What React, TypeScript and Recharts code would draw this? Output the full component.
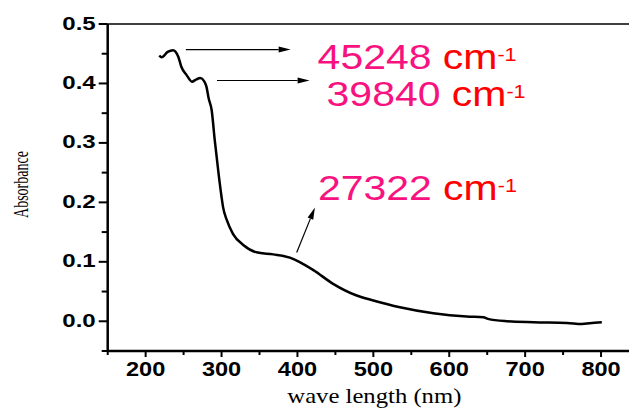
import React from "react";
import {
  LineChart,
  Line,
  XAxis,
  YAxis,
  ReferenceLine,
} from "recharts";

// absorbance spectrum
const wavelength = [
  218, 221, 229, 236, 243, 247, 254, 261, 267, 272, 277, 280, 283, 287, 291,
  296, 300, 302, 307, 315, 329, 346, 368, 390, 403, 421, 447, 478, 500, 535,
  579, 623, 645, 651, 676, 711, 755, 775, 785, 801,
];
const absorbance = [
  0.447, 0.444, 0.453, 0.456, 0.445, 0.428, 0.414, 0.403, 0.407, 0.409, 0.404,
  0.395, 0.375, 0.355, 0.305, 0.249, 0.209, 0.192, 0.17, 0.147, 0.128, 0.116,
  0.1125, 0.107, 0.0995, 0.086, 0.063, 0.0433, 0.035, 0.0236, 0.0135, 0.0079,
  0.0067, 0.004, 0.0, -0.0017, -0.0028, -0.0045, -0.0033, -0.0017,
];

const xTicks = [150, 200, 250, 300, 350, 400, 450, 500, 550, 600, 650, 700, 750, 800, 850];
const yTicks = [-0.05, 0, 0.05, 0.1, 0.15, 0.2, 0.25, 0.3, 0.35, 0.4, 0.45, 0.5];

// peak annotations: arrow from (x1,y1) to (x2,y2), then the wavenumber
const peakLabels = ["45248", "39840", "27322"];
const arrowFrom = [
  { x: 253, y: 0.457 },
  { x: 294, y: 0.405 },
  { x: 399, y: 0.1156 },
];
const arrowTo = [
  { x: 391, y: 0.457 },
  { x: 416, y: 0.405 },
  { x: 423, y: 0.1914 },
];

const data = wavelength.map((w, i) => ({ w, a: absorbance[i] }));

const textOffsets = [
  { dx: 27, dy: 19 },
  { dx: 17, dy: 26 },
  { dx: 3, dy: -7 },
];

const SANS = "'Liberation Sans', Arial, sans-serif";
const SERIF = "'Liberation Serif', 'Times New Roman', serif";

const isMajorX = (v: number) => v % 100 === 0;
const isMajorY = (v: number) => Math.abs(Math.round(v * 10) - v * 10) < 1e-6;

function XTick(props: any) {
  const { x, y, payload } = props;
  const major = isMajorX(payload.value);
  return (
    <g>
      <line x1={x} x2={x} y1={y} y2={y + (major ? 6 : 4)} stroke="#000" strokeWidth={2} />
      {major && (
        <g transform={`translate(${x},${y + 25})`}>
          <text
            transform="scale(1.15,1)"
            textAnchor="middle"
            fontFamily={SANS}
            fontWeight="bold"
            fontSize={20.5}
            fill="#000"
          >
            {payload.value}
          </text>
        </g>
      )}
    </g>
  );
}

function YTick(props: any) {
  const { x, y, payload } = props;
  const major = isMajorY(payload.value);
  return (
    <g>
      <line x1={x} x2={x - (major ? 9 : 6)} y1={y} y2={y} stroke="#000" strokeWidth={2} />
      {major && (
        <g transform={`translate(${x - 12},${y + 5.5})`}>
          <text
            transform="scale(1.3,1)"
            textAnchor="end"
            fontFamily={SANS}
            fontWeight="bold"
            fontSize={18.5}
            fill="#000"
          >
            {payload.value.toFixed(1)}
          </text>
        </g>
      )}
    </g>
  );
}

function arrowShape(i: number) {
  return (p: any) => {
    const { x1, y1, x2, y2 } = p;
    const ang = Math.atan2(y2 - y1, x2 - x1);
    const len = 12;
    const hw = 3;
    const bx = x2 - len * Math.cos(ang);
    const by = y2 - len * Math.sin(ang);
    const nx = -Math.sin(ang) * hw;
    const ny = Math.cos(ang) * hw;
    const off = textOffsets[i];
    return (
      <g>
        <line x1={x1} y1={y1} x2={bx} y2={by} stroke="#000" strokeWidth={1.2} />
        <polygon
          points={`${x2},${y2} ${bx + nx},${by + ny} ${bx - nx},${by - ny}`}
          fill="#000"
        />
        <g transform={`translate(${x2 + off.dx},${y2 + off.dy})`}>
          <text transform="scale(1.17,1)" fontFamily={SANS} fontSize={35}>
            <tspan fill="#f7127f">{peakLabels[i]}</tspan>
            <tspan fill="#ff0000"> cm</tspan>
            <tspan fill="#ff0000" fontSize={18.5} dy={-8}>
              -1
            </tspan>
          </text>
        </g>
      </g>
    );
  };
}

export default function App() {
  return (
    <div
      style={{
        position: "absolute",
        left: 0,
        top: 0,
        width: 629,
        height: 413,
        overflow: "hidden",
        background: "#fff",
      }}
    >
      <LineChart
        width={640}
        height={413}
        data={data}
        margin={{ top: 24, right: 1, left: 0, bottom: 0 }}
      >
        <XAxis
          dataKey="w"
          type="number"
          domain={[150, 850]}
          ticks={xTicks}
          interval={0}
          tickSize={0}
          tickMargin={0}
          height={62}
          axisLine={{ stroke: "#000", strokeWidth: 2.5 }}
          tickLine={false}
          tick={<XTick />}
          label={{
            content: (lp: any) => {
              const vb = lp.viewBox;
              return (
                <text
                  x={vb.x + vb.width / 2 + 1}
                  y={vb.y + 52}
                  textAnchor="middle"
                  fontFamily={SERIF}
                  fontSize={22}
                  textLength={174}
                  lengthAdjust="spacingAndGlyphs"
                  fill="#000"
                >
                  wave length (nm)
                </text>
              );
            },
          }}
        />
        <YAxis
          type="number"
          domain={[-0.05, 0.5]}
          ticks={yTicks}
          interval={0}
          tickSize={0}
          tickMargin={0}
          width={107.7}
          axisLine={{ stroke: "#000", strokeWidth: 2.5 }}
          tickLine={false}
          tick={<YTick />}
          label={{
            content: (lp: any) => {
              const vb = lp.viewBox;
              const cx = 28;
              const cy = vb.y + vb.height / 2 - 3;
              return (
                <text
                  x={cx}
                  y={cy}
                  transform={`rotate(-90, ${cx}, ${cy})`}
                  textAnchor="middle"
                  fontFamily={SERIF}
                  fontSize={22}
                  textLength={67}
                  lengthAdjust="spacingAndGlyphs"
                  fill="#000"
                >
                  Absorbance
                </text>
              );
            },
          }}
        />
        <ReferenceLine y={0.5} stroke="#000" strokeWidth={1.3} />
        <Line
          type="monotone"
          dataKey="a"
          stroke="#000"
          strokeWidth={2.5}
          dot={false}
          isAnimationActive={false}
        />
        {peakLabels.map((lbl, i) => (
          <ReferenceLine
            key={lbl}
            segment={[arrowFrom[i], arrowTo[i]]}
            ifOverflow="visible"
            shape={arrowShape(i)}
          />
        ))}
      </LineChart>
    </div>
  );
}
